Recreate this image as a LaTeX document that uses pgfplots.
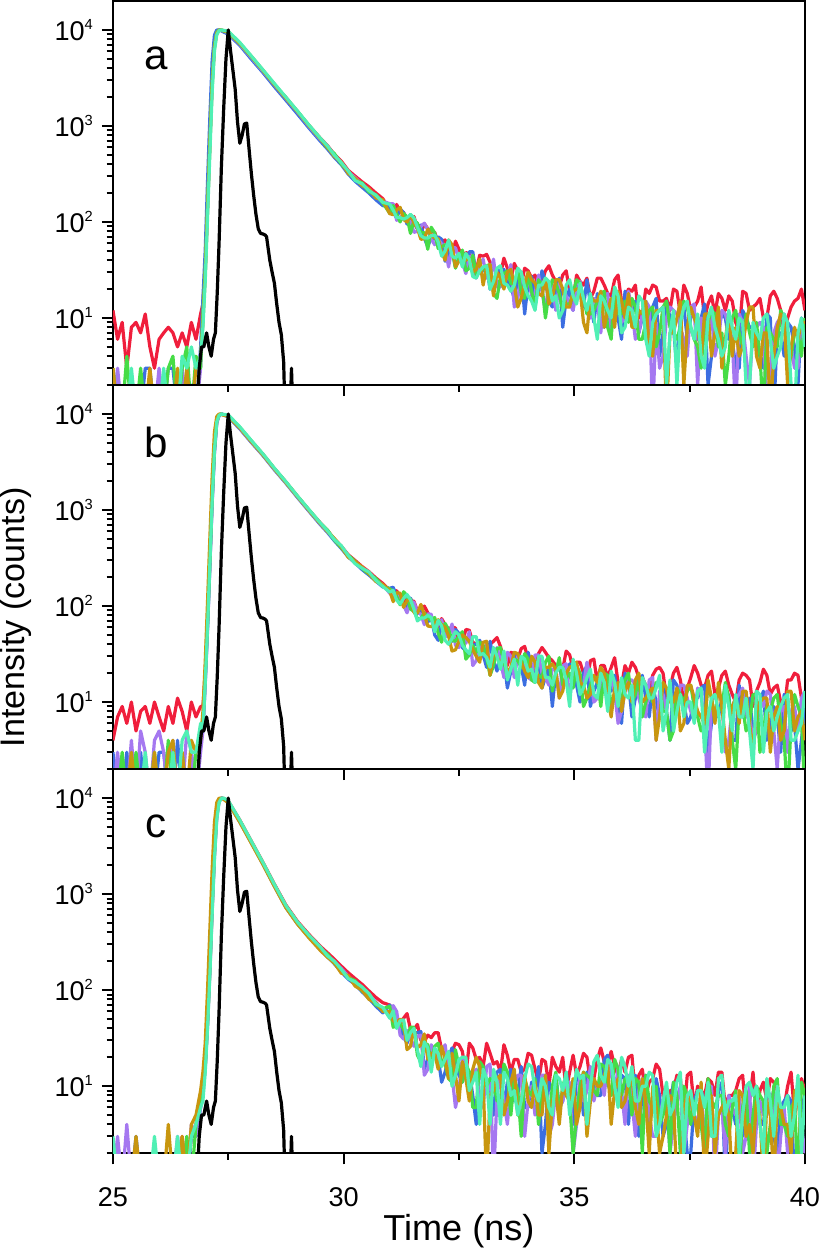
\documentclass[border=0pt]{standalone}
\usepackage{pgfplots}
\pgfplotsset{compat=1.18}
\usepackage{pgfplotstable}
\usepackage{fontspec}
\setmainfont{Liberation Sans}
\definecolor{cR}{RGB}{240,30,60}
\definecolor{cB}{RGB}{60,110,225}
\definecolor{cP}{RGB}{165,120,240}
\definecolor{cG}{RGB}{70,220,70}
\definecolor{cO}{RGB}{200,150,15}
\definecolor{cA}{RGB}{80,240,180}
\newcommand\sups[1]{\raisebox{5.5pt}{\fontsize{7.3}{7.3}\selectfont #1}}

\pgfplotstableread{
x r b p g o a
25.0 12 1 1 3 3 1
25.1 6 1 3 1 1 1
25.2 9 1 1 1 1 1
25.3 3 1 1 4 1 1
25.4 8 1 1 1 1 3
25.5 9 1 1 1 1 1
25.6 7 1 1 3 1 1
25.7 11 3 1 1 1 1
25.8 5 3 1 1 3 1
25.9 3 1 1 1 1 1
26.0 6 1 3 1 1 1
26.1 7 1 1 1 1 3
26.2 8 3 1 3 1 1
26.3 7 3 1 4 1 1
26.4 5 1 1 1 3 1
26.5 7 1 3 3 1 4
26.6 5 1 1 5 3 3
26.7 9 2 1 1 1 5
26.8 6 1 1 4 3 3
26.9 11 5 3 3 4 4
26.95 14 16 10 11 9 8
27.0 35 50 30 32 28 24
27.05 150 260 140 150 130 110
27.1 700 1200 650 680 600 500
27.15 3000 4800 2800 2900 2600 2200
27.2 7000 8800 6800 6900 6500 6000
27.25 9400 10000 9300 9400 9200 8900
27.3 10000 9900 10000 10000 9900 9800
27.35 9900 9800 9900 9950 10000 10000
27.4 9700 9500 9700 9750 9800 9900
27.5 9400 9000 9300 9400 9500 9700
27.75 7150 6900 7100 7200 7250 7400
28.0 5150 4950 5150 5250 5300 5350
28.25 3800 3600 3720 3780 3800 3850
28.5 2650 2560 2690 2720 2700 2760
28.75 1980 1850 1930 1960 1950 1990
29.0 1400 1330 1400 1420 1410 1430
29.25 1010 950 990 1010 1005 1020
29.5 740 690 720 735 730 740
29.65 625 575 610 590 605 620
29.8 505 470 500 515 480 495
29.95 430 395 410 400 420 415
30.1 345 315 330 335 320 340
30.25 300 265 290 275 285 270
30.4 262 230 245 255 238 250
30.55 232 200 218 205 222 212
30.7 200 170 180 192 178 190
30.85 175 148 165 158 170 160
31.0 133 144 155 123 122 153
31.075 125 126 155 148 119 133
31.15 152 110 104 121 133 111
31.225 128 137 110 100 142 111
31.3 126 125 121 123 106 107
31.375 107 95 107 112 100 111
31.45 101 118 100 76 119 120
31.525 114 99 78 104 98 110
31.6 86 84 80 97 86 88
31.675 76 93 90 78 66 72
31.75 96 68 97 77 67 68
31.825 85 55 83 52 84 68
31.9 79 71 66 88 72 72
31.975 78 66 58 77 68 73
32.05 61 70 66 53 67 62
32.125 62 66 59 55 49 44
32.2 65 39 55 58 40 50
32.275 50 47 34 56 65 65
32.35 44 51 54 51 58 44
32.425 63 34 54 33 34 42
32.5 52 42 40 43 39 47
32.575 43 45 38 51 40 34
32.65 48 34 29 31 40 47
32.725 46 49 43 33 42 41
32.8 35 49 45 45 30 27
32.875 31 28 26 28 32 26
32.95 45 31 36 30 41 31
33.025 44 31 41 32 22 34
33.1 46 34 26 35 34 35
33.175 38 20 26 36 36 20
33.25 33 21 41 18 17 24
33.325 30 31 21 16 30 33
33.4 28 31 21 27 26 35
33.475 42 32 29 29 20 23
33.55 33 24 26 31 30 22
33.625 25 21 36 23 32 19
33.7 37 16 13 22 22 22
33.775 31 25 16 33 13 33
33.85 22 30 27 18 16 30
33.925 33 11 23 16 23 21
34.0 31 23 28 29 30 17
34.075 26 27 17 19 25 15
34.15 28 17 18 13 23 12
34.225 20 19 28 25 18 22
34.3 24 31 19 22 17 22
34.375 31 24 12 10 26 26
34.45 35 15 24 18 14 24
34.525 28 13 22 25 16 15
34.6 24 19 12 23 25 17
34.675 21 26 23 18 25 10
34.75 28 8 20 12 20 12
34.825 31 16 17 14 13 22
34.9 19 20 14 14 13 25
34.975 15 12 12 18 19 17
35.05 28 23 24 25 20 14
35.125 24 18 24 23 20 23
35.2 22 13 15 16 9 16
35.275 26 25 12 11 7 12
35.35 16 14 10 11 17 18
35.425 19 9 16 12 15 10
35.5 26 18 15 15 15 6
35.575 26 14 7 18 19 17
35.65 22 8 17 19 8 15
35.725 18 10 18 8 12 12
35.8 17 15 7 6 16 10
35.875 25 19 15 21 8 21
35.95 28 10 18 11 19 17
36.025 15 6 9 11 15 7
36.1 16 19 10 15 10 8
36.175 20 14 19 9 18 13
36.25 19 11 12 16 8 12
36.325 22 15 6 13 8 8
36.4 10 7 7 6 12 17
36.475 11 10 11 6 11 15
36.55 20 12 15 9 15 6
36.625 18 6 13 12 5 4
36.7 22 13 1 13 4 9
36.775 21 16 9 5 12 11
36.85 15 4 3 7 12 12
36.925 15 7 4 13 13 13
37.0 16 15 10 15 1 2
37.075 12 10 13 8 7 7
37.15 20 8 12 7 7 12
37.225 19 3 11 6 10 2
37.3 11 10 8 8 15 9
37.375 22 13 6 15 2 13
37.45 18 6 4 13 8 15
37.525 12 10 13 8 13 8
37.6 13 12 14 6 10 6
37.675 15 6 2 5 8 11
37.75 21 10 10 3 4 4
37.825 10 14 9 9 11 3
37.9 14 2 6 9 11 10
37.975 17 4 11 12 4 13
38.05 11 8 4 11 7 8
38.125 18 8 6 5 13 6
38.2 16 11 12 7 3 4
38.275 12 10 11 2 6 5
38.35 17 6 8 4 11 12
38.425 15 6 6 10 4 8
38.5 9 3 1 12 8 6
38.575 7 3 11 7 4 10
38.65 19 12 9 5 5 9
38.725 18 10 4 11 9 2
38.8 12 8 2 7 13 2
38.875 13 8 8 5 13 9
38.95 14 5 8 9 4 7
39.025 16 4 9 4 3 6
39.1 10 3 8 1 7 10
39.175 10 11 1 8 7 11
39.25 17 10 3 7 1 6
39.325 19 1 7 6 4 3
39.4 16 7 9 5 8 4
39.475 12 7 10 12 11 5
39.55 7 4 11 10 10 11
39.625 10 9 5 3 2 9
39.7 13 8 5 4 5 2
39.775 15 5 3 7 8 1
39.85 16 2 3 7 6 7
39.925 20 10 8 4 9 10
40.0 12 7 7 10 9 5
}\tabA

\pgfplotstableread{
x r b p g o a
25.0 4 3 1 1 1 1
25.1 7 1 3 1 1 1
25.2 9 1 1 3 1 1
25.3 6 3 1 1 1 1
25.4 10 1 4 1 3 1
25.5 5 1 1 3 1 1
25.6 8 3 5 1 1 1
25.7 9 1 3 1 1 3
25.8 6 1 1 1 1 1
25.9 10 1 4 3 3 1
26.0 7 3 5 1 1 1
26.1 5 3 3 1 1 1
26.2 9 1 1 4 3 1
26.3 6 1 4 1 4 3
26.4 11 4 1 1 1 1
26.5 8 1 1 3 3 4
26.6 5 1 5 1 1 5
26.7 10 3 3 1 4 3
26.8 7 1 1 3 3 3
26.9 9 4 3 5 4 6
26.95 9 5 5 6 8 5
27.0 20 16 15 18 26 16
27.05 70 60 55 65 110 60
27.1 300 260 250 280 500 270
27.15 1400 1200 1150 1300 2200 1250
27.2 4500 4000 3900 4300 6500 4200
27.25 8500 8200 8000 8400 9400 8300
27.3 9800 9700 9600 9800 10000 9700
27.35 10000 10000 10000 10000 9900 10000
27.4 9800 9800 9850 9800 9700 9900
27.5 9500 9300 9400 9600 9500 9800
27.75 7200 7000 7100 7250 7150 7350
28.0 5200 5050 5120 5250 5150 5300
28.25 3820 3700 3750 3800 3760 3850
28.5 2700 2620 2650 2700 2680 2730
28.75 1960 1900 1920 1950 1930 1970
29.0 1390 1350 1370 1390 1380 1400
29.25 1000 970 985 1000 990 1010
29.5 730 700 712 725 718 730
29.65 612 585 600 620 596 608
29.8 500 478 495 488 505 492
29.95 420 398 412 405 415 425
30.1 342 325 330 338 322 336
30.25 298 280 285 292 290 276
30.4 258 240 252 246 255 248
30.55 228 210 222 215 218 226
30.7 196 182 188 194 180 185
30.85 172 158 166 162 168 160
31.0 146 153 136 151 144 140
31.075 141 157 125 143 111 146
31.15 145 124 135 126 138 115
31.225 114 119 126 103 136 105
31.3 110 102 102 141 97 120
31.375 122 95 85 128 114 132
31.45 114 121 112 93 118 116
31.525 112 99 109 88 86 93
31.6 89 83 87 74 84 70
31.675 86 97 82 74 104 75
31.75 100 79 64 85 81 75
31.825 85 68 83 76 62 80
31.9 76 77 82 71 61 76
31.975 57 50 55 76 66 54
32.05 61 44 65 52 72 71
32.125 74 65 72 42 64 62
32.2 64 57 49 66 60 44
32.275 57 51 48 57 49 40
32.35 61 43 65 44 34 46
32.425 59 57 39 43 35 54
32.5 40 52 37 49 43 50
32.575 42 37 46 54 50 39
32.65 57 34 41 28 47 35
32.725 56 31 54 31 43 32
32.8 42 39 24 39 35 48
32.875 40 40 27 33 30 48
32.95 43 44 39 42 26 31
33.025 35 31 34 39 42 32
33.1 33 23 40 29 43 29
33.175 40 43 26 19 19 23
33.25 43 27 26 24 32 37
33.325 47 21 37 36 30 30
33.4 38 31 27 37 24 22
33.475 27 28 18 27 32 34
33.55 24 14 33 18 20 17
33.625 33 21 30 22 23 22
33.7 32 30 18 28 33 28
33.775 28 32 30 27 32 15
33.85 36 24 27 23 26 30
33.925 38 15 23 32 21 28
34.0 28 33 18 28 18 21
34.075 21 24 17 17 30 22
34.15 23 18 31 16 26 16
34.225 32 27 31 19 16 30
34.3 37 14 20 18 14 30
34.375 33 18 18 26 23 18
34.45 29 23 15 30 23 18
34.525 27 9 22 13 25 15
34.6 24 21 22 20 22 20
34.675 22 27 11 29 11 23
34.75 22 14 24 15 13 23
34.825 34 18 25 18 20 17
34.9 31 25 11 20 23 9
34.975 22 22 20 14 24 28
35.05 26 15 25 24 26 20
35.125 26 10 14 20 16 12
35.2 20 20 15 9 15 14
35.275 16 24 26 11 11 18
35.35 27 9 18 15 12 22
35.425 28 13 10 18 19 12
35.5 16 16 11 18 16 11
35.575 24 11 15 9 23 20
35.65 24 20 20 20 20 16
35.725 18 15 18 19 11 8
35.8 23 13 17 9 7 21
35.875 29 19 13 12 14 16
35.95 16 10 6 13 16 9
36.025 15 6 8 10 8 18
36.1 24 20 13 17 13 12
36.175 20 16 17 20 16 11
36.25 26 7 17 10 10 15
36.325 23 11 15 12 17 4
36.4 18 14 11 18 20 4
36.475 18 19 8 7 10 18
36.55 15 11 7 10 11 15
36.625 13 7 17 13 13 11
36.7 19 15 18 10 14 11
36.775 22 10 4 16 4 14
36.85 23 7 13 16 7 19
36.925 20 14 12 8 16 5
37.0 11 8 8 8 14 8
37.075 14 4 14 4 10 17
37.15 20 17 7 5 10 5
37.225 23 15 8 14 14 8
37.3 17 10 15 12 5 12
37.375 10 10 15 10 6 7
37.45 14 6 11 13 15 10
37.525 18 7 8 15 15 10
37.6 24 11 7 9 11 6
37.675 20 11 14 7 8 13
37.75 15 14 12 5 7 14
37.825 14 15 6 6 6 3
37.9 19 3 1 15 17 7
37.975 21 6 11 11 11 11
38.05 12 8 11 7 6 12
38.125 14 7 12 8 16 8
38.2 19 11 10 9 9 3
38.275 21 12 3 16 4 15
38.35 15 12 4 11 2 9
38.425 12 4 9 4 9 5
38.5 10 4 11 2 11 12
38.575 17 15 12 9 6 7
38.65 20 7 14 9 13 7
38.725 19 8 7 5 13 11
38.8 17 11 7 6 6 5
38.875 9 5 4 12 3 2
38.95 13 6 5 12 8 13
39.025 16 10 10 3 10 12
39.1 22 13 9 5 11 3
39.175 19 4 13 9 11 8
39.25 12 6 12 8 3 9
39.325 14 9 5 11 7 5
39.4 15 7 2 12 9 7
39.475 10 3 8 6 4 9
39.55 8 12 9 4 5 11
39.625 17 11 3 1 13 12
39.7 17 5 8 6 13 4
39.775 20 6 9 12 5 4
39.85 19 2 5 9 7 5
39.925 11 4 11 7 8 6
40.0 12 9 13 1 4 13
}\tabB

\pgfplotstableread{
x r b p g o a
25.0 1 1 1 1 1 3
25.1 1 1 3 1 1 1
25.2 1 1 1 1 1 1
25.3 1 1 4 1 1 1
25.4 1 1 1 1 1 1
25.5 1 3 1 1 3 1
25.6 1 1 1 1 1 1
25.7 1 1 1 1 1 1
25.8 1 1 1 1 1 1
25.9 1 1 1 1 1 3
26.0 1 1 1 1 1 1
26.1 1 1 1 1 1 1
26.2 1 1 1 1 4 1
26.3 1 1 1 1 1 1
26.4 1 1 3 1 1 3
26.5 3 1 1 1 3 1
26.6 1 1 1 3 1 1
26.7 3 3 4 1 4 3
26.8 4 3 3 4 5 4
26.9 7 6 6 7 9 6
26.95 9 9 8 9 14 7
27.0 16 17 15 16 28 14
27.05 45 50 42 46 100 40
27.1 160 180 150 170 420 140
27.15 700 800 650 750 1800 620
27.2 2600 2900 2400 2800 5600 2300
27.25 6500 7000 6200 6800 9000 6000
27.3 9300 9500 9200 9400 10000 9000
27.35 10000 10000 10000 10000 9900 9900
27.4 9900 9850 9900 9900 9700 10000
27.5 9300 9000 9100 9150 8900 9400
27.75 5900 5650 5750 5780 5600 5900
28.0 3560 3420 3470 3490 3380 3550
28.25 2150 2060 2090 2100 2040 2140
28.5 1270 1210 1230 1240 1200 1260
28.75 770 725 740 745 720 760
29.0 520 490 500 505 488 512
29.25 380 355 362 368 350 372
29.5 285 262 272 265 258 280
29.65 245 222 232 238 220 228
29.8 210 188 196 190 192 200
29.95 178 155 168 160 150 165
30.1 152 130 140 136 142 132
30.25 132 115 118 125 110 122
30.4 115 96 105 98 100 108
30.55 98 82 90 86 80 92
30.7 84 68 75 70 74 72
30.85 74 58 62 64 60 66
31.0 70 70 58 68 60 51
31.075 58 62 69 41 48 61
31.15 44 45 60 44 46 40
31.225 47 42 34 45 50 48
31.3 51 33 31 39 47 49
31.375 57 28 38 32 24 30
31.45 39 35 31 41 26 36
31.525 39 36 26 41 40 40
31.6 44 36 33 21 25 24
31.675 30 37 34 18 27 16
31.75 29 15 13 28 35 29
31.825 34 19 15 27 19 25
31.9 32 25 27 18 22 14
31.975 36 21 23 26 22 25
32.05 36 20 19 28 15 22
32.125 24 11 23 18 26 16
32.2 21 14 27 17 19 19
32.275 18 20 15 12 12 23
32.35 23 25 13 11 22 10
32.425 28 20 6 24 13 13
32.5 27 13 9 16 7 19
32.575 23 11 20 11 18 20
32.65 13 16 16 17 12 20
32.725 28 14 13 14 7 9
32.8 25 8 13 6 15 11
32.875 19 4 15 6 20 14
32.95 20 16 8 18 16 4
33.025 16 16 6 16 11 15
33.1 28 10 16 10 1 12
33.175 22 10 17 12 8 4
33.25 17 5 1 11 9 15
33.325 18 14 8 7 12 11
33.4 14 15 13 7 13 4
33.475 27 6 7 17 5 14
33.55 21 11 4 14 7 12
33.625 14 15 10 5 11 8
33.7 19 7 10 12 15 9
33.775 19 8 13 9 5 5
33.85 14 16 13 3 7 7
33.925 15 6 3 12 13 12
34.0 22 6 7 9 7 17
34.075 21 11 10 8 6 16
34.15 15 9 5 12 11 9
34.225 11 16 7 4 5 7
34.3 19 2 13 8 5 12
34.375 18 4 13 12 13 10
34.45 10 11 3 4 2 6
34.525 20 9 4 10 7 5
34.6 16 13 9 14 9 13
34.675 14 6 6 5 4 12
34.75 20 7 7 10 10 9
34.825 9 14 11 13 8 14
34.9 14 8 11 7 7 5
34.975 21 4 2 2 12 8
35.05 13 13 4 5 4 15
35.125 16 12 13 10 6 12
35.2 22 5 7 14 14 13
35.275 20 14 9 13 3 4
35.35 11 12 16 12 7 10
35.425 12 10 7 9 12 18
35.5 19 8 10 8 10 21
35.575 25 8 12 17 10 13
35.65 18 19 8 16 13 11
35.725 17 21 18 11 17 19
35.8 23 13 14 8 4 17
35.875 16 11 8 19 9 10
35.95 13 8 16 15 12 6
36.025 19 13 9 8 6 20
36.1 14 12 4 12 7 16
36.175 20 4 13 12 11 10
36.25 21 12 7 5 12 16
36.325 8 13 3 12 6 7
36.4 13 3 9 11 4 7
36.475 15 9 12 2 12 10
36.55 8 13 10 13 7 10
36.625 11 4 5 7 2 14
36.7 12 6 3 6 10 13
36.775 17 12 3 10 6 3
36.85 15 8 5 4 2 4
36.925 8 3 7 5 3 7
37.0 5 4 8 8 5 11
37.075 9 6 2 2 8 5
37.15 9 11 4 11 7 6
37.225 13 8 7 8 1 11
37.3 12 9 10 2 1 14
37.375 5 5 2 10 6 2
37.45 13 2 4 8 8 8
37.525 14 2 8 4 7 9
37.6 6 7 5 7 5 5
37.675 10 9 4 6 3 9
37.75 9 9 9 4 11 9
37.825 8 7 3 2 1 6
37.9 12 6 3 12 3 11
37.975 11 3 10 7 8 3
38.05 8 3 1 6 2 3
38.125 14 9 5 8 5 12
38.2 14 11 6 8 6 13
38.275 6 1 2 4 7 5
38.35 8 8 8 3 5 7
38.425 8 6 6 6 1 7
38.5 9 4 5 9 2 8
38.575 12 8 8 1 9 2
38.65 13 3 2 6 8 5
38.725 5 4 3 9 3 10
38.8 7 10 10 2 4 11
38.875 14 9 1 5 2 8
38.95 5 7 4 10 7 10
39.025 9 4 7 8 5 4
39.1 11 4 5 7 1 2
39.175 7 9 5 2 7 12
39.25 12 8 7 4 5 7
39.325 11 3 9 10 1 3
39.4 9 2 1 12 7 10
39.475 6 6 3 4 6 6
39.55 6 7 6 4 4 6
39.625 10 8 2 3 4 8
39.7 14 7 3 6 2 3
39.775 5 1 6 7 9 5
39.85 8 2 8 1 9 13
39.925 12 6 4 11 2 2
40.0 9 8 2 8 1 8
}\tabC

\pgfplotstableread{
x y
25.0 1
26.82 1
26.87 3
26.92 5
26.97 5
27.03 7
27.08 5
27.13 4
27.18 6
27.22 7
27.26 18
27.3 60
27.35 370
27.4 1500
27.45 5000
27.5 10000
27.55 6000
27.6 3800
27.65 2400
27.7 1100
27.75 660
27.8 800
27.85 1050
27.9 1070
27.95 580
28.0 320
28.05 190
28.1 120
28.15 85
28.2 76
28.25 75
28.3 73
28.33 70
28.4 40
28.45 30
28.5 23
28.55 14
28.6 9
28.65 6.7
28.7 3.5
28.73 1
28.84 1
28.87 3
28.9 1
40 1
}\tabIRF

\pgfplotsset{
  every axis/.append style={
    width=345pt, height=191.5pt, scale only axis,
    xmin=25, xmax=40, ymin=2, ymax=20000,
    xtick={25,30,35,40}, minor xtick={27.5,32.5,37.5},
    ytick={10,100,1000,10000},
    yticklabels={10\sups{1},10\sups{2},10\sups{3},10\sups{4}},
    minor ytick={2,3,4,5,6,7,8,9,20,30,40,50,60,70,80,90,200,300,400,500,600,700,800,900,2000,3000,4000,5000,6000,7000,8000,9000},
    tick align=outside, tick pos=left,
    major tick length=5.5pt, minor tick length=3.2pt,
    axis line style={line width=1pt},
    every tick/.style={black, line width=1pt},
    ticklabel style={font=\fontsize{13.5}{15}\selectfont},
    yticklabel style={xshift=-1pt},
    xticklabel style={yshift=-8pt},
  },
  every axis plot/.append style={line width=1.6pt, line join=round, no markers},
}

\newcommand\series[1]{%
  \addplot[cR] table[x=x,y=r]{#1};
  \addplot[cB] table[x=x,y=b]{#1};
  \addplot[cP] table[x=x,y=p]{#1};
  \addplot[cG] table[x=x,y=g]{#1};
  \addplot[cO] table[x=x,y=o]{#1};
  \addplot[cA] table[x=x,y=a]{#1};
  \addplot[black] table[x=x,y=y]{\tabIRF};
}

\begin{document}
\begin{tikzpicture}
\begin{semilogyaxis}[name=pa, at={(0,0)}, anchor=north west, xticklabels={}]
\series{\tabA}
\node[font=\fontsize{21}{24}\selectfont] at (axis cs:25.93,5100) {a};
\end{semilogyaxis}
\begin{semilogyaxis}[name=pb, at={(pa.south west)}, anchor=north west, xticklabels={}]
\series{\tabB}
\node[font=\fontsize{21}{24}\selectfont] at (axis cs:25.93,5100) {b};
\end{semilogyaxis}
\begin{semilogyaxis}[name=pc, at={(pb.south west)}, anchor=north west, xticklabels={25,30,35,40}]
\series{\tabC}
\node[font=\fontsize{21}{24}\selectfont] at (axis cs:25.93,5100) {c};
\end{semilogyaxis}
\node[rotate=90, anchor=base, inner sep=0pt, font=\fontsize{17}{19}\selectfont] at ([xshift=-44pt,yshift=-20pt]pb.west) {Intensity (counts)};
\node[anchor=base, inner sep=0pt, font=\fontsize{18}{20}\selectfont] at ([yshift=-43.5pt]pc.south) {Time (ns)};
\end{tikzpicture}
\end{document}
